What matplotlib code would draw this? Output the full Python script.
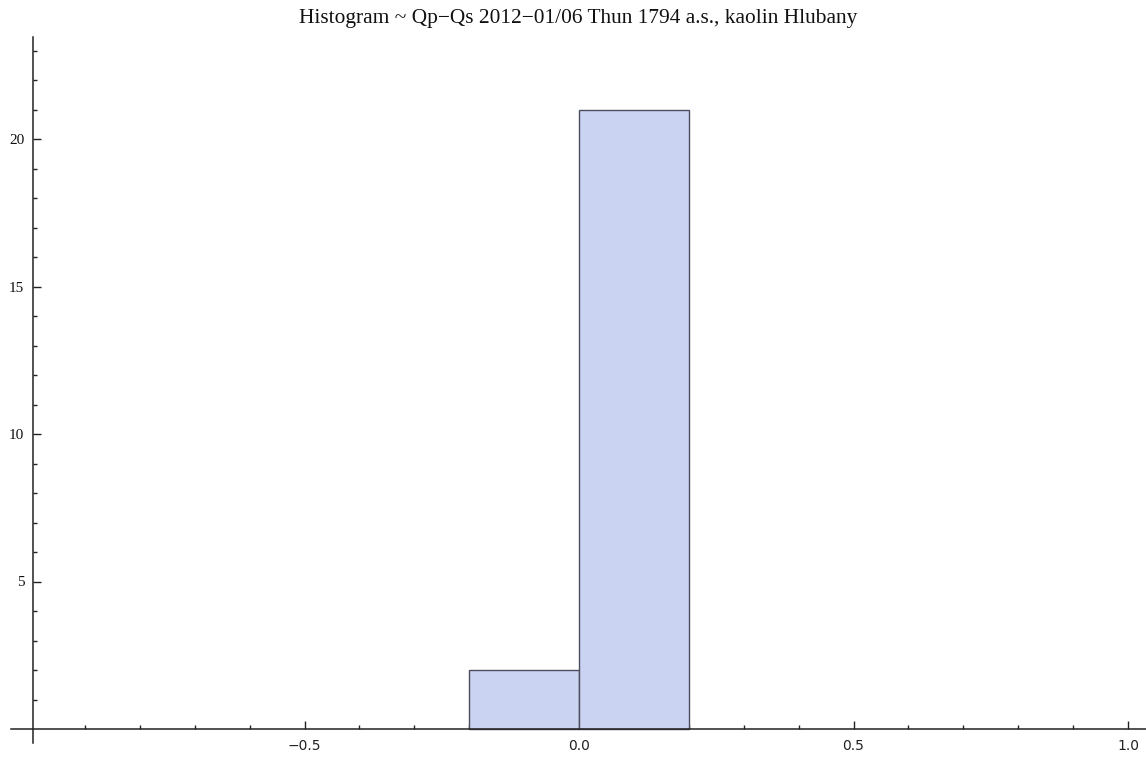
import matplotlib
matplotlib.use("Agg")
import matplotlib.pyplot as plt
import numpy as np
from matplotlib.ticker import FixedLocator

# Histogram data: bin edges and counts
bin_edges = [-0.2, 0.0, 0.2]
counts = [2, 21]

x_major = [-0.5, 0.0, 0.5, 1.0]
x_major_labels = ["\u22120.5", "0.0", "0.5", "1.0"]
x_minor = [-0.9, -0.8, -0.7, -0.6, -0.4, -0.3, -0.2, -0.1,
           0.1, 0.2, 0.3, 0.4, 0.6, 0.7, 0.8, 0.9]
y_major = [5, 10, 15, 20]
y_minor = [1, 2, 3, 4, 6, 7, 8, 9, 11, 12, 13, 14, 16, 17, 18, 19, 21, 22, 23]

title = "Histogram ~ Qp\u2212Qs 2012\u221201/06 Thun 1794 a.s., kaolin Hlubany"

W, H = 1146, 757
fig = plt.figure(figsize=(W / 100, H / 100), dpi=100)
ax = fig.add_axes([0, 0, 1, 1])

# pixel mapping: x_px = 579 + 549*x ; y_px(from top) = 729 - 29.5*y
x0, sx = 579.0, 549.0
y0, sy = 729.0, 29.5
ax.set_xlim(-x0 / sx, (W - x0) / sx)
ax.set_ylim(-(H - y0) / sy, y0 / sy)

widths = np.diff(bin_edges)
ax.bar(bin_edges[:-1], counts, width=widths, align="edge",
       color="#cbd3f3", edgecolor="#4b4d5c", linewidth=1.0, zorder=2)

for s in ("top", "right"):
    ax.spines[s].set_visible(False)
ax.spines["left"].set_position(("data", -0.995))
ax.spines["bottom"].set_position(("data", 0))
ax.spines["left"].set_bounds((743 - y0) / -sy, (y0 - 37) / sy)
ax.spines["bottom"].set_bounds((11 - x0) / sx, (W - x0) / sx)
for s in ("left", "bottom"):
    ax.spines[s].set_linewidth(1.1)
    ax.spines[s].set_color("#222222")
    ax.spines[s].set_zorder(3)

ax.xaxis.set_major_locator(FixedLocator(x_major))
ax.xaxis.set_minor_locator(FixedLocator(x_minor))
ax.set_xticklabels(x_major_labels)
ax.yaxis.set_major_locator(FixedLocator(y_major))
ax.yaxis.set_minor_locator(FixedLocator(y_minor))

ax.tick_params(axis="x", which="major", direction="in", length=5.5, width=1.0,
               color="#222222", pad=7.5, labelsize=10, labelcolor="#222222")
ax.tick_params(axis="x", which="minor", direction="in", length=2.7, width=1.0,
               color="#222222")
ax.tick_params(axis="y", which="major", direction="in", length=5.5, width=1.0,
               color="#222222", pad=6, labelsize=11, labelcolor="#111111")
ax.tick_params(axis="y", which="minor", direction="in", length=2.7, width=1.0,
               color="#222222")
for lab in ax.get_yticklabels():
    lab.set_fontfamily("Liberation Serif")

fig.text(578 / W, 1 - 18 / H, title, ha="center", va="center",
         fontsize=15.4, family="Liberation Serif", color="#111111")

fig.savefig("out.png", dpi=100, facecolor="white")
